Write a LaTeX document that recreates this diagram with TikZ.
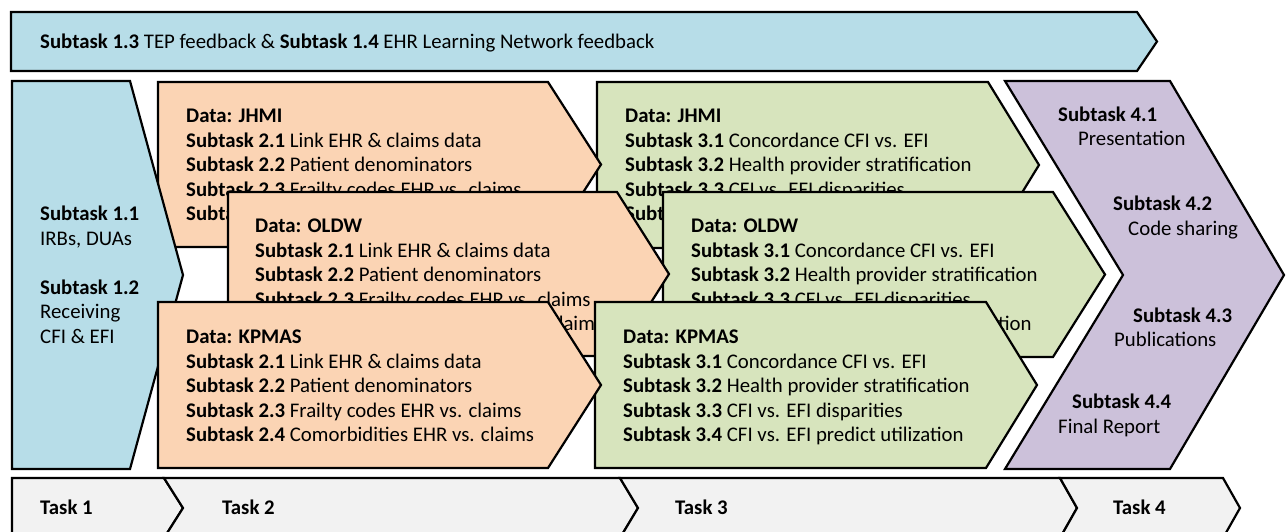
\documentclass[tikz,border=0pt]{standalone}
\usepackage{fontspec}
\setmainfont{Carlito}
\definecolor{cblue}{HTML}{B7DDE8}
\definecolor{corange}{HTML}{FBD4B4}
\definecolor{cgreen}{HTML}{D7E4BD}
\definecolor{cpurple}{HTML}{CCC1DA}
\definecolor{cgray}{HTML}{F2F2F2}
\tikzset{
  shp/.style={draw=black, line width=2.2pt, line join=miter},
  bluebox/.style={shp, fill=cblue},
  orangebox/.style={shp, fill=corange},
  greenbox/.style={shp, fill=cgreen},
  purplebox/.style={shp, fill=cpurple},
  taskbox/.style={shp, fill=cgray},
  txt/.style={anchor=base west, inner sep=0pt, font=\fontsize{20.8}{24.5}\selectfont},
}
\newcommand{\orangelines}[1]{\begin{tabular}[t]{@{}l@{}}\textbf{Data: #1}\\
\textbf{Subtask 2.1} Link EHR \& claims data\\
\textbf{Subtask 2.2} Patient denominators\\
\textbf{Subtask 2.3} Frailty codes EHR vs. claims\\
\textbf{Subtask 2.4} Comorbidities EHR vs. claims\end{tabular}}
\newcommand{\greenlines}[1]{\begin{tabular}[t]{@{}l@{}}\textbf{Data: #1}\\
\textbf{Subtask 3.1} Concordance CFI vs. EFI\\
\textbf{Subtask 3.2} Health provider stratification\\
\textbf{Subtask 3.3} CFI vs. EFI disparities\\
\textbf{Subtask 3.4} CFI vs. EFI predict utilization\end{tabular}}
\begin{document}
\begin{tikzpicture}[x=1pt,y=-1pt]
\useasboundingbox (0,0) rectangle (1286,531);
% top banner
\path[bluebox] (11,12) -- (1137,12) -- (1157,41.5) -- (1137,71) -- (11,71) -- cycle;
\node[txt] (banner) at (40,48.5) {\textbf{Subtask 1.3} TEP feedback \& \textbf{Subtask 1.4} EHR Learning Network feedback};
% green JHMI
\path[greenbox] (597,82) -- (988,82) -- (1039,165) -- (988,248) -- (597,248) -- cycle;
\node[txt] (gj) at (625,122.5) {\greenlines{JHMI}};
% orange JHMI
\path[orangebox] (158,82) -- (548,82) -- (601,164.5) -- (548,247) -- (158,247) -- cycle;
\node[txt] (oj) at (186,122.5) {\orangelines{JHMI}};
% blue task 1
\path[bluebox] (12,81) -- (130,81) -- (183,275) -- (130,469) -- (12,469) -- cycle;
\node[txt] (b1) at (40,220.5) {\begin{tabular}[t]{@{}l@{}}\textbf{Subtask 1.1}\\ IRBs, DUAs\\[24.5pt] \textbf{Subtask 1.2}\\ Receiving\\ CFI \& EFI\end{tabular}};
% green OLDW
\path[greenbox] (663,192) -- (1053,192) -- (1105,274.5) -- (1053,357) -- (663,357) -- cycle;
\node[txt] (go) at (691,232.5) {\greenlines{OLDW}};
% orange OLDW
\path[orangebox] (228,192) -- (617,192) -- (669,274) -- (617,356) -- (228,356) -- cycle;
\node[txt] (oo) at (255,232.5) {\orangelines{OLDW}};
% green KPMAS
\path[greenbox] (595,302) -- (986,302) -- (1037,385) -- (986,468) -- (595,468) -- cycle;
\node[txt] (gk) at (623,343.5) {\greenlines{KPMAS}};
% orange KPMAS
\path[orangebox] (158,302) -- (548,302) -- (601,385) -- (548,468) -- (158,468) -- cycle;
\node[txt] (ok) at (186,343.5) {\orangelines{KPMAS}};
% purple task 4
\path[purplebox] (1005,81) -- (1170,81) -- (1284,275) -- (1170,469) -- (1005,469) -- (1123,275) -- cycle;
\node[txt] (p1a) at (1058,121.5) {\textbf{Subtask 4.1}};
\node[txt] (p1b) at (1078,145.5) {Presentation};
\node[txt] (p2a) at (1113,210.5) {\textbf{Subtask 4.2}};
\node[txt] (p2b) at (1128,235.5) {Code sharing};
\node[txt] (p3a) at (1133,322.5) {\textbf{Subtask 4.3}};
\node[txt] (p3b) at (1114,346.5) {Publications};
\node[txt] (p4a) at (1072,408.5) {\textbf{Subtask 4.4}};
\node[txt] (p4b) at (1058,433.5) {Final Report};
% task bar
\path[taskbox] (12,478) -- (164,478) -- (183,508) -- (164,538) -- (12,538) -- cycle;
\path[taskbox] (164,478) -- (620,478) -- (638,508) -- (620,538) -- (164,538) -- (183,508) -- cycle;
\path[taskbox] (620,478) -- (1060,478) -- (1077,508) -- (1060,538) -- (620,538) -- (638,508) -- cycle;
\path[taskbox] (1060,478) -- (1223,478) -- (1240,508) -- (1223,538) -- (1060,538) -- (1077,508) -- cycle;
\node[txt] (t1) at (40,514.5) {\textbf{Task 1}};
\node[txt] (t2) at (222,514.5) {\textbf{Task 2}};
\node[txt] (t3) at (675,514.5) {\textbf{Task 3}};
\node[txt] (t4) at (1113,514.5) {\textbf{Task 4}};
\end{tikzpicture}
\end{document}
